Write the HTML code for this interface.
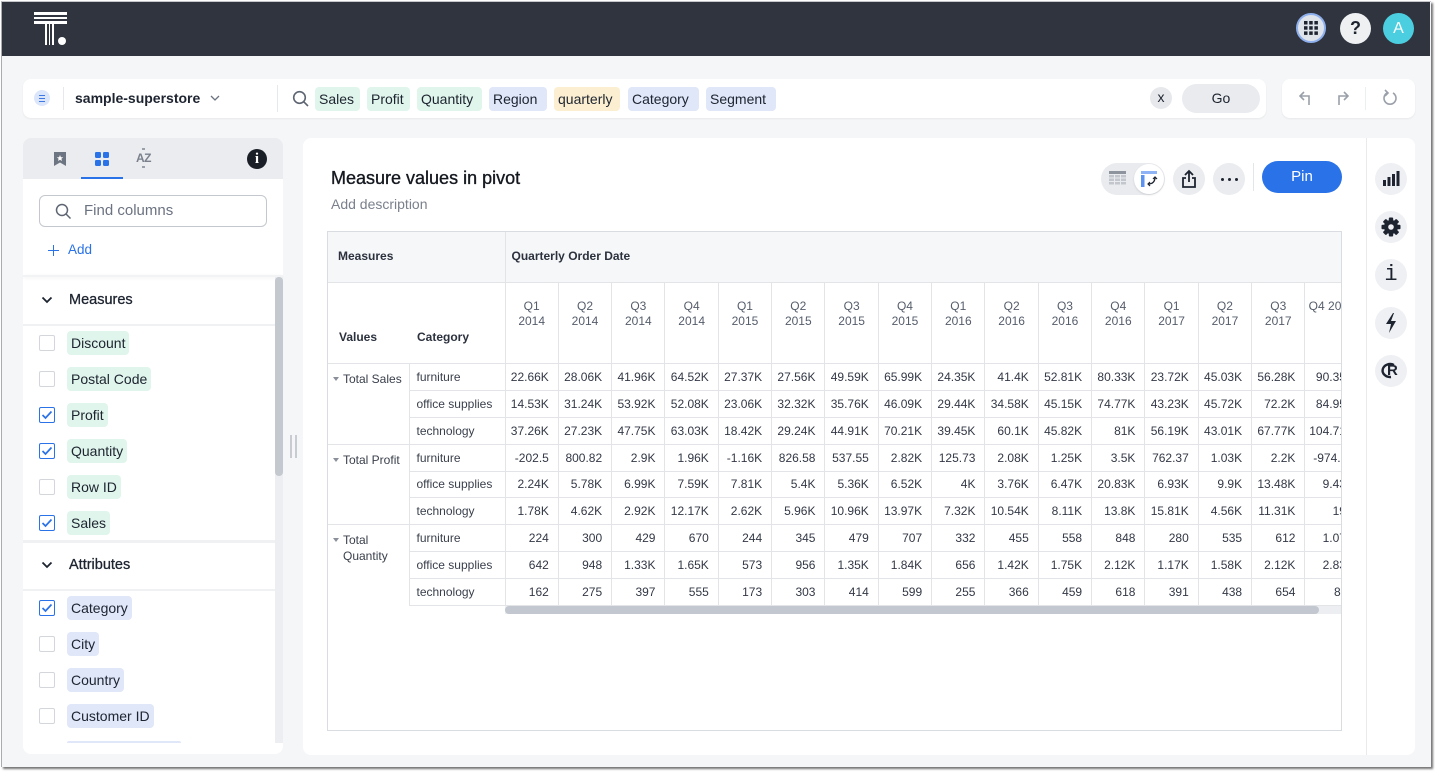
<!DOCTYPE html>
<html><head><meta charset="utf-8">
<style>
*{box-sizing:border-box;margin:0;padding:0}
body{width:1435px;height:774px;background:#fff;position:relative;overflow:hidden;font-family:"Liberation Sans",Arial,sans-serif;color:#1d2430}
.a{position:absolute}
.chip{position:absolute;height:24px;line-height:24px;font-size:14px;padding:0 4px;border-radius:4px;color:#1d2430;white-space:nowrap}
.g{background:#e0f5eb}.b{background:#e0e7f9}.y{background:#fcefd1}
.cb{position:absolute;left:39px;width:16px;height:16px;border:1px solid #d3d6db;border-radius:2px;background:#fff}
.cb.on{border:1.5px solid #2a72e8}
.lc{position:absolute;left:67px;height:24px;line-height:24px;font-size:14px;padding:0 4px;border-radius:4px;white-space:nowrap;color:#1d2430}
.circ{position:absolute;border-radius:50%}
table{border-collapse:collapse;table-layout:fixed;width:1031.33px;font-size:12px}
td{padding:0;overflow:hidden;white-space:nowrap}
.h1{height:51px;background:#f6f7f9;font-weight:bold;color:#2b313d;border-bottom:1px solid #e2e4e8;padding-left:11px;vertical-align:middle}
.h2{height:81px;background:#fff;border-bottom:1px solid #e2e4e8}
.q{text-align:center;vertical-align:top;padding-top:16px;line-height:15px;color:#555d6b;border-right:1px solid #e2e4e8;white-space:normal}
.hl{font-weight:bold;color:#2b313d;vertical-align:bottom;padding-bottom:18px;line-height:15px}
tr.d td{height:27px;border-bottom:1px solid #e2e4e8;border-right:1px solid #e2e4e8;text-align:right;padding-right:9px;color:#323845}
tr.d.s td{height:26px}
tr.d td.last{padding-right:4px}
tr.d td.c{text-align:left;padding-left:7px;padding-right:0;color:#3a404c}
tr.d td.grp{text-align:left;vertical-align:top;padding:7px 0 0 16px;line-height:16px;white-space:normal;color:#3a404c;position:relative}
.tri{position:absolute;left:6px;top:13px;width:0;height:0;border-left:3px solid transparent;border-right:3px solid transparent;border-top:4px solid #8a909a}
</style></head><body>

<!-- frame -->
<div class="a" style="left:1px;top:1px;width:1430px;height:766px;background:#f5f6f8;border-left:1px solid #a9acb1;border-top:1px solid #c4c6ca;box-shadow:2px 2px 2px rgba(0,0,0,.55)"></div>

<!-- header -->
<div class="a" style="left:2px;top:2px;width:1428px;height:54px;background:#30343f"></div>
<!-- logo -->
<div class="a" style="left:34px;top:12px;width:33px;height:2.5px;background:#fff"></div>
<div class="a" style="left:34px;top:16.5px;width:33px;height:2.5px;background:#fff"></div>
<div class="a" style="left:34px;top:21px;width:33px;height:2.5px;background:#fff"></div>
<div class="a" style="left:45px;top:24px;width:1.5px;height:21px;background:#fff"></div>
<div class="a" style="left:48.5px;top:24px;width:1.5px;height:21px;background:#fff"></div>
<div class="a" style="left:52px;top:24px;width:1.5px;height:21px;background:#fff"></div>
<div class="circ" style="left:58px;top:37px;width:8px;height:8px;background:#fff"></div>

<!-- header right -->
<div class="circ" style="left:1296px;top:13px;width:30px;height:30px;background:#dfe3ea;border:2px solid #8fb0ee"></div>
<svg class="a" style="left:1303px;top:20px" width="16" height="16" viewBox="0 0 16 16" fill="#1d2430">
<rect x="1" y="1" width="3.5" height="3.5"/><rect x="6.2" y="1" width="3.5" height="3.5"/><rect x="11.4" y="1" width="3.5" height="3.5"/>
<rect x="1" y="6.2" width="3.5" height="3.5"/><rect x="6.2" y="6.2" width="3.5" height="3.5"/><rect x="11.4" y="6.2" width="3.5" height="3.5"/>
<rect x="1" y="11.4" width="3.5" height="3.5"/><rect x="6.2" y="11.4" width="3.5" height="3.5"/><rect x="11.4" y="11.4" width="3.5" height="3.5"/></svg>
<div class="circ" style="left:1340px;top:13px;width:31px;height:31px;background:#eef0f2;text-align:center;line-height:31px;font-size:18px;font-weight:bold;color:#1d2430">?</div>
<div class="circ" style="left:1383px;top:13px;width:31px;height:31px;background:#4bcfe0;text-align:center;line-height:31px;font-size:16px;color:#fff">A</div>

<!-- search bar -->
<div class="a" style="left:23px;top:79px;width:1243px;height:39px;background:#fff;border-radius:8px;box-shadow:0 1px 2px rgba(0,0,0,.06)"></div>
<div class="circ" style="left:34px;top:90px;width:16px;height:16px;background:#dce6fb"></div>
<div class="a" style="left:39px;top:94.5px;width:6px;height:1.5px;background:#3d78e6"></div>
<div class="a" style="left:39px;top:97.5px;width:6px;height:1.5px;background:#3d78e6"></div>
<div class="a" style="left:39px;top:100.5px;width:6px;height:1.5px;background:#3d78e6"></div>
<div class="a" style="left:63px;top:87px;width:1px;height:23px;background:#e6e8eb"></div>
<div class="a" style="left:75px;top:90px;font-size:14px;font-weight:bold;line-height:17px;color:#1d2430">sample-superstore</div>
<svg class="a" style="left:210px;top:94px" width="10" height="8" viewBox="0 0 10 8"><path d="M1 2 L5 6 L9 2" stroke="#6b7280" stroke-width="1.3" fill="none"/></svg>
<div class="a" style="left:277px;top:85px;width:1px;height:27px;background:#e6e8eb"></div>
<svg class="a" style="left:292px;top:90px" width="18" height="18" viewBox="0 0 18 18"><circle cx="7.5" cy="7.5" r="5.8" stroke="#5e6572" stroke-width="1.6" fill="none"/><path d="M11.8 11.8 L16 16" stroke="#5e6572" stroke-width="1.6"/></svg>
<div class="chip g" style="left:315px;top:87px;width:45px">Sales</div>
<div class="chip g" style="left:367px;top:87px;width:43px">Profit</div>
<div class="chip g" style="left:417px;top:87px;width:65px">Quantity</div>
<div class="chip b" style="left:489px;top:87px;width:58px">Region</div>
<div class="chip y" style="left:554px;top:87px;width:66px">quarterly</div>
<div class="chip b" style="left:628px;top:87px;width:71px">Category</div>
<div class="chip b" style="left:706px;top:87px;width:70px">Segment</div>
<div class="circ" style="left:1150px;top:87px;width:22px;height:22px;background:#e6e8eb;text-align:center;line-height:21px;font-size:14px;color:#1d2430">x</div>
<div class="a" style="left:1182px;top:84px;width:78px;height:29px;border-radius:15px;background:#e9ebee;text-align:center;line-height:29px;font-size:14px;color:#1d2430">Go</div>

<!-- undo box -->
<div class="a" style="left:1282px;top:79px;width:133px;height:39px;background:#fff;border-radius:8px;box-shadow:0 1px 2px rgba(0,0,0,.06)"></div>
<svg class="a" style="left:1298px;top:90px" width="16" height="16" viewBox="0 0 16 16"><path d="M6 2 L2 6 L6 10 M2 6 H11 V15" stroke="#9aa0aa" stroke-width="1.6" fill="none"/></svg>
<svg class="a" style="left:1334px;top:90px" width="16" height="16" viewBox="0 0 16 16"><path d="M10 2 L14 6 L10 10 M14 6 H5 V15" stroke="#9aa0aa" stroke-width="1.6" fill="none"/></svg>
<div class="a" style="left:1365px;top:87px;width:1px;height:23px;background:#eceef0"></div>
<svg class="a" style="left:1382px;top:89px" width="16" height="18" viewBox="0 0 16 18"><path d="M5 4 A6 6 0 1 0 11 4" stroke="#9aa0aa" stroke-width="1.6" fill="none"/><path d="M3 1 L6 4 L3 7" stroke="#9aa0aa" stroke-width="1.6" fill="none"/></svg>

<!-- left panel -->
<div class="a" style="left:23px;top:138px;width:260px;height:616px;background:#fff;border-radius:8px;overflow:hidden">
  <div class="a" style="left:0;top:0;width:260px;height:41px;background:#ebecef"></div>
</div>
<svg class="a" style="left:54px;top:152px" width="12" height="14" viewBox="0 0 12 14"><path d="M0 0 H12 V14 L6 10.5 L0 14 Z" fill="#6e7582"/><path d="M6 3 L6.9 5.2 L9.2 5.3 L7.4 6.7 L8 9 L6 7.7 L4 9 L4.6 6.7 L2.8 5.3 L5.1 5.2 Z" fill="#fff"/></svg>
<svg class="a" style="left:95px;top:152px" width="14" height="14" viewBox="0 0 14 14" fill="#2a72e8"><rect x="0" y="0" width="6" height="6" rx="1.2"/><rect x="8" y="0" width="6" height="6" rx="1.2"/><rect x="0" y="8" width="6" height="6" rx="1.2"/><rect x="8" y="8" width="6" height="6" rx="1.2"/></svg>
<div class="a" style="left:81px;top:177px;width:42px;height:2px;background:#2a72e8"></div>
<div class="a" style="left:136px;top:151px;font-size:12px;font-weight:bold;color:#7a818c;line-height:14px;letter-spacing:-0.5px">AZ</div>
<div class="a" style="left:142px;top:148px;width:3px;height:2px;background:#9aa0aa"></div>
<div class="a" style="left:142px;top:166px;width:3px;height:2px;background:#9aa0aa"></div>
<div class="circ" style="left:247px;top:149px;width:20px;height:20px;background:#1a1e27;color:#fff;text-align:center;font-family:'Liberation Serif',serif;font-weight:bold;font-size:15px;line-height:20px">i</div>

<div class="a" style="left:39px;top:195px;width:228px;height:32px;border:1px solid #c4c8ce;border-radius:6px;background:#fff"></div>
<svg class="a" style="left:55px;top:203px" width="17" height="17" viewBox="0 0 17 17"><circle cx="7" cy="7" r="5.5" stroke="#5e6572" stroke-width="1.5" fill="none"/><path d="M11 11 L15.5 15.5" stroke="#5e6572" stroke-width="1.5"/></svg>
<div class="a" style="left:84px;top:202px;font-size:15px;line-height:18px;color:#6b7280">Find columns</div>
<div class="a" style="left:48px;top:249.5px;width:11px;height:1.5px;background:#2a72e8"></div>
<div class="a" style="left:52.8px;top:244.5px;width:1.5px;height:11px;background:#2a72e8"></div>
<div class="a" style="left:68px;top:242px;font-size:13.5px;line-height:16px;color:#2a72e8">Add</div>
<div class="a" style="left:23px;top:275px;width:260px;height:2px;background:#f2f3f5;box-shadow:0 1px 3px rgba(0,0,0,.06)"></div>

<!-- scrollbar -->
<div class="a" style="left:275px;top:277px;width:8px;height:466px;background:#eceef1"></div>
<div class="a" style="left:275px;top:277px;width:8px;height:199px;background:#c4c8cf;border-radius:4px"></div>

<svg class="a" style="left:41px;top:296px" width="12" height="8" viewBox="0 0 12 8"><path d="M1.5 1.5 L6 6 L10.5 1.5" stroke="#1d2430" stroke-width="1.8" fill="none"/></svg>
<div class="a" style="left:69px;top:292px;font-size:14.5px;line-height:17px;color:#1d2430;-webkit-text-stroke:0.3px #1d2430">Measures</div>
<div class="a" style="left:23px;top:324px;width:252px;height:2px;background:#f0f1f3"></div>

<div class="cb" style="top:335px"></div><div class="lc g" style="top:331px">Discount</div>
<div class="cb" style="top:371px"></div><div class="lc g" style="top:367px">Postal Code</div>
<div class="cb on" style="top:407px"></div><div class="lc g" style="top:403px">Profit</div>
<div class="cb on" style="top:443px"></div><div class="lc g" style="top:439px">Quantity</div>
<div class="cb" style="top:479px"></div><div class="lc g" style="top:475px">Row ID</div>
<div class="cb on" style="top:515px"></div><div class="lc g" style="top:511px">Sales</div>

<div class="a" style="left:23px;top:540px;width:252px;height:3px;background:#f0f1f3"></div>
<svg class="a" style="left:41px;top:561px" width="12" height="8" viewBox="0 0 12 8"><path d="M1.5 1.5 L6 6 L10.5 1.5" stroke="#1d2430" stroke-width="1.8" fill="none"/></svg>
<div class="a" style="left:69px;top:557px;font-size:14.5px;line-height:17px;color:#1d2430;-webkit-text-stroke:0.3px #1d2430">Attributes</div>
<div class="a" style="left:23px;top:589px;width:252px;height:2px;background:#f0f1f3"></div>

<div class="cb on" style="top:600px"></div><div class="lc b" style="top:596px">Category</div>
<div class="cb" style="top:636px"></div><div class="lc b" style="top:632px">City</div>
<div class="cb" style="top:672px"></div><div class="lc b" style="top:668px">Country</div>
<div class="cb" style="top:708px"></div><div class="lc b" style="top:704px">Customer ID</div>
<div class="a" style="left:67px;top:741px;width:114px;height:2px;background:#e0e7f9;border-radius:3px 3px 0 0"></div>

<!-- checkmarks -->
<svg class="a" style="left:39px;top:407px" width="16" height="16" viewBox="0 0 16 16"><path d="M3.5 8 L6.5 11 L12.5 4.5" stroke="#2a72e8" stroke-width="1.7" fill="none"/></svg>
<svg class="a" style="left:39px;top:443px" width="16" height="16" viewBox="0 0 16 16"><path d="M3.5 8 L6.5 11 L12.5 4.5" stroke="#2a72e8" stroke-width="1.7" fill="none"/></svg>
<svg class="a" style="left:39px;top:515px" width="16" height="16" viewBox="0 0 16 16"><path d="M3.5 8 L6.5 11 L12.5 4.5" stroke="#2a72e8" stroke-width="1.7" fill="none"/></svg>
<svg class="a" style="left:39px;top:600px" width="16" height="16" viewBox="0 0 16 16"><path d="M3.5 8 L6.5 11 L12.5 4.5" stroke="#2a72e8" stroke-width="1.7" fill="none"/></svg>

<!-- drag handle -->
<div class="a" style="left:290px;top:435px;width:1.5px;height:23px;background:#c8ccd2"></div>
<div class="a" style="left:295px;top:435px;width:1.5px;height:23px;background:#c8ccd2"></div>

<!-- main panel -->
<div class="a" style="left:303px;top:138px;width:1112px;height:617px;background:#fff;border-radius:8px"></div>
<div class="a" style="left:1366px;top:138px;width:1px;height:617px;background:#e8eaed"></div>

<div class="a" style="left:331px;top:167px;font-size:18px;line-height:22px;color:#14181f;-webkit-text-stroke:0.35px #14181f">Measure values in pivot</div>
<div class="a" style="left:331px;top:196px;font-size:14px;line-height:16px;color:#7a818c">Add description</div>

<!-- toolbar -->
<div class="a" style="left:1101px;top:163px;width:64px;height:32px;border-radius:16px;background:#e9ebee"></div>
<svg class="a" style="left:1109px;top:171px" width="17" height="16" viewBox="0 0 17 16"><rect x="0" y="0" width="17" height="3" fill="#8e949d"/><g fill="#c3c7cd"><rect x="0" y="4" width="5" height="2.5"/><rect x="6" y="4" width="5" height="2.5"/><rect x="12" y="4" width="5" height="2.5"/><rect x="0" y="7.5" width="5" height="2.5"/><rect x="6" y="7.5" width="5" height="2.5"/><rect x="12" y="7.5" width="5" height="2.5"/><rect x="0" y="11" width="5" height="2.5"/><rect x="6" y="11" width="5" height="2.5"/><rect x="12" y="11" width="5" height="2.5"/></g></svg>
<div class="circ" style="left:1134px;top:164px;width:30px;height:30px;background:#fff;box-shadow:0 1px 2px rgba(0,0,0,.12)"></div>
<svg class="a" style="left:1140px;top:170px" width="18" height="18" viewBox="0 0 18 18"><rect x="1" y="1" width="16" height="3" fill="#8fb4f5"/><rect x="1" y="5" width="3.5" height="12" fill="#5c93f0"/><path d="M15 7 Q15 14 8 14" stroke="#1d2430" stroke-width="1.3" fill="none"/><path d="M13 9 L15 7 L17 9 M10 12 L8 14 L10 16" stroke="#1d2430" stroke-width="1.2" fill="none"/></svg>
<div class="circ" style="left:1173px;top:163px;width:32px;height:32px;background:#eaecef"></div>
<svg class="a" style="left:1181px;top:169px" width="16" height="20" viewBox="0 0 16 20"><path d="M8 13 V2 M4 6 L8 2 L12 6" stroke="#1d2430" stroke-width="1.8" fill="none"/><path d="M5 9 H2 V18 H14 V9 H11" stroke="#1d2430" stroke-width="1.8" fill="none"/></svg>
<div class="circ" style="left:1213px;top:163px;width:32px;height:32px;background:#eaecef"></div>
<div class="circ" style="left:1221px;top:178px;width:3px;height:3px;background:#1d2430"></div>
<div class="circ" style="left:1228px;top:178px;width:3px;height:3px;background:#1d2430"></div>
<div class="circ" style="left:1235px;top:178px;width:3px;height:3px;background:#1d2430"></div>
<div class="a" style="left:1253px;top:163px;width:1px;height:28px;background:#e3e5e8"></div>
<div class="a" style="left:1262px;top:161px;width:80px;height:32px;border-radius:16px;background:#2a72e8;color:#fff;text-align:center;line-height:32px;font-size:15px">Pin</div>

<!-- right sidebar -->
<div class="circ" style="left:1375px;top:163px;width:32px;height:32px;background:#eef0f3"></div>
<svg class="a" style="left:1382px;top:171px" width="18" height="16" viewBox="0 0 18 16" fill="#1d2430"><rect x="1" y="9" width="3" height="6"/><rect x="5.5" y="6" width="3" height="9"/><rect x="10" y="3" width="3" height="12"/><rect x="14.5" y="0" width="3" height="15"/></svg>
<div class="circ" style="left:1375px;top:211px;width:32px;height:32px;background:#eef0f3"></div>
<svg class="a" style="left:1381px;top:217px" width="20" height="20" viewBox="0 0 20 20"><g fill="#1d2430" transform="translate(10 10)"><rect x="-2.2" y="-9.5" width="4.4" height="19" rx="1"/><rect x="-2.2" y="-9.5" width="4.4" height="19" rx="1" transform="rotate(45)"/><rect x="-2.2" y="-9.5" width="4.4" height="19" rx="1" transform="rotate(90)"/><rect x="-2.2" y="-9.5" width="4.4" height="19" rx="1" transform="rotate(135)"/><circle r="7"/></g><circle cx="10" cy="10" r="2.8" fill="#eef0f3"/></svg>
<div class="circ" style="left:1375px;top:259px;width:32px;height:32px;background:#eef0f3;text-align:center;font-family:'Liberation Mono',monospace;font-size:22px;line-height:32px;color:#1d2430">i</div>
<div class="circ" style="left:1375px;top:307px;width:32px;height:32px;background:#eef0f3"></div>
<svg class="a" style="left:1384px;top:313px" width="14" height="20" viewBox="0 0 14 20"><polygon points="9,0 2,11 7,11 5,20 12,8 7,8 10,0" fill="#1d2430"/></svg>
<div class="circ" style="left:1375px;top:355px;width:32px;height:32px;background:#eef0f3"></div>
<svg class="a" style="left:1380px;top:361px" width="22" height="20" viewBox="0 0 22 20"><path d="M14 4 A7.5 6.5 0 1 0 11 16" stroke="#1d2430" stroke-width="2.4" fill="none"/></svg>
<div class="a" style="left:1387px;top:362px;font-size:15px;font-weight:bold;line-height:18px;color:#1d2430">R</div>

<!-- table -->
<div class="a" style="left:327px;top:231px;width:1015px;height:500px;overflow:hidden;background:#fff">
<table>
<colgroup><col style="width:82px"><col style="width:96px">
<col style="width:53.333px"><col style="width:53.333px"><col style="width:53.333px"><col style="width:53.333px"><col style="width:53.333px"><col style="width:53.333px"><col style="width:53.333px"><col style="width:53.333px"><col style="width:53.333px"><col style="width:53.333px"><col style="width:53.333px"><col style="width:53.333px"><col style="width:53.333px"><col style="width:53.333px"><col style="width:53.333px"><col style="width:53.333px"></colgroup>
<tr><td class="h1" colspan="2" style="border-right:1px solid #e2e4e8">Measures</td><td class="h1" colspan="16" style="padding-left:6px">Quarterly Order Date</td></tr>
<tr class="h2r"><td class="h2 hl" style="padding-left:12px">Values</td><td class="h2 hl" style="padding-left:8px;border-right:1px solid #e2e4e8">Category</td>
<td class="h2 q">Q1<br>2014</td><td class="h2 q">Q2<br>2014</td><td class="h2 q">Q3<br>2014</td><td class="h2 q">Q4<br>2014</td>
<td class="h2 q">Q1<br>2015</td><td class="h2 q">Q2<br>2015</td><td class="h2 q">Q3<br>2015</td><td class="h2 q">Q4<br>2015</td>
<td class="h2 q">Q1<br>2016</td><td class="h2 q">Q2<br>2016</td><td class="h2 q">Q3<br>2016</td><td class="h2 q">Q4<br>2016</td>
<td class="h2 q">Q1<br>2017</td><td class="h2 q">Q2<br>2017</td><td class="h2 q">Q3<br>2017</td><td class="h2 q" style="white-space:nowrap;overflow:visible">Q4 2017</td></tr>

<tr class="d"><td class="grp" rowspan="3"><span class="tri"></span>Total Sales</td><td class="c">furniture</td><td>22.66K</td><td>28.06K</td><td>41.96K</td><td>64.52K</td><td>27.37K</td><td>27.56K</td><td>49.59K</td><td>65.99K</td><td>24.35K</td><td>41.4K</td><td>52.81K</td><td>80.33K</td><td>23.72K</td><td>45.03K</td><td>56.28K</td><td class="last">90.35K</td></tr>
<tr class="d"><td class="c">office supplies</td><td>14.53K</td><td>31.24K</td><td>53.92K</td><td>52.08K</td><td>23.06K</td><td>32.32K</td><td>35.76K</td><td>46.09K</td><td>29.44K</td><td>34.58K</td><td>45.15K</td><td>74.77K</td><td>43.23K</td><td>45.72K</td><td>72.2K</td><td class="last">84.95K</td></tr>
<tr class="d"><td class="c">technology</td><td>37.26K</td><td>27.23K</td><td>47.75K</td><td>63.03K</td><td>18.42K</td><td>29.24K</td><td>44.91K</td><td>70.21K</td><td>39.45K</td><td>60.1K</td><td>45.82K</td><td>81K</td><td>56.19K</td><td>43.01K</td><td>67.77K</td><td class="last">104.71K</td></tr>

<tr class="d"><td class="grp" rowspan="3"><span class="tri"></span>Total Profit</td><td class="c">furniture</td><td>-202.5</td><td>800.82</td><td>2.9K</td><td>1.96K</td><td>-1.16K</td><td>826.58</td><td>537.55</td><td>2.82K</td><td>125.73</td><td>2.08K</td><td>1.25K</td><td>3.5K</td><td>762.37</td><td>1.03K</td><td>2.2K</td><td class="last">-974.63</td></tr>
<tr class="d s"><td class="c">office supplies</td><td>2.24K</td><td>5.78K</td><td>6.99K</td><td>7.59K</td><td>7.81K</td><td>5.4K</td><td>5.36K</td><td>6.52K</td><td>4K</td><td>3.76K</td><td>6.47K</td><td>20.83K</td><td>6.93K</td><td>9.9K</td><td>13.48K</td><td class="last">9.43K</td></tr>
<tr class="d"><td class="c">technology</td><td>1.78K</td><td>4.62K</td><td>2.92K</td><td>12.17K</td><td>2.62K</td><td>5.96K</td><td>10.96K</td><td>13.97K</td><td>7.32K</td><td>10.54K</td><td>8.11K</td><td>13.8K</td><td>15.81K</td><td>4.56K</td><td>11.31K</td><td class="last">19K</td></tr>

<tr class="d"><td class="grp" rowspan="3" style="border-bottom:none"><span class="tri"></span>Total Quantity</td><td class="c">furniture</td><td>224</td><td>300</td><td>429</td><td>670</td><td>244</td><td>345</td><td>479</td><td>707</td><td>332</td><td>455</td><td>558</td><td>848</td><td>280</td><td>535</td><td>612</td><td class="last">1.07K</td></tr>
<tr class="d"><td class="c">office supplies</td><td>642</td><td>948</td><td>1.33K</td><td>1.65K</td><td>573</td><td>956</td><td>1.35K</td><td>1.84K</td><td>656</td><td>1.42K</td><td>1.75K</td><td>2.12K</td><td>1.17K</td><td>1.58K</td><td>2.12K</td><td class="last">2.83K</td></tr>
<tr class="d"><td class="c">technology</td><td>162</td><td>275</td><td>397</td><td>555</td><td>173</td><td>303</td><td>414</td><td>599</td><td>255</td><td>366</td><td>459</td><td>618</td><td>391</td><td>438</td><td>654</td><td class="last">832</td></tr>
</table>
</div>
<!-- table horizontal scrollbar -->
<div class="a" style="left:505px;top:606px;width:836px;height:8px;background:#eceef1"></div>
<div class="a" style="left:505px;top:606px;width:814px;height:8px;background:#c3c8d0;border-radius:4px"></div>
<!-- table outer border -->
<div class="a" style="left:327px;top:231px;width:1015px;height:500px;border:1px solid #d9dce1"></div>

</body></html>
